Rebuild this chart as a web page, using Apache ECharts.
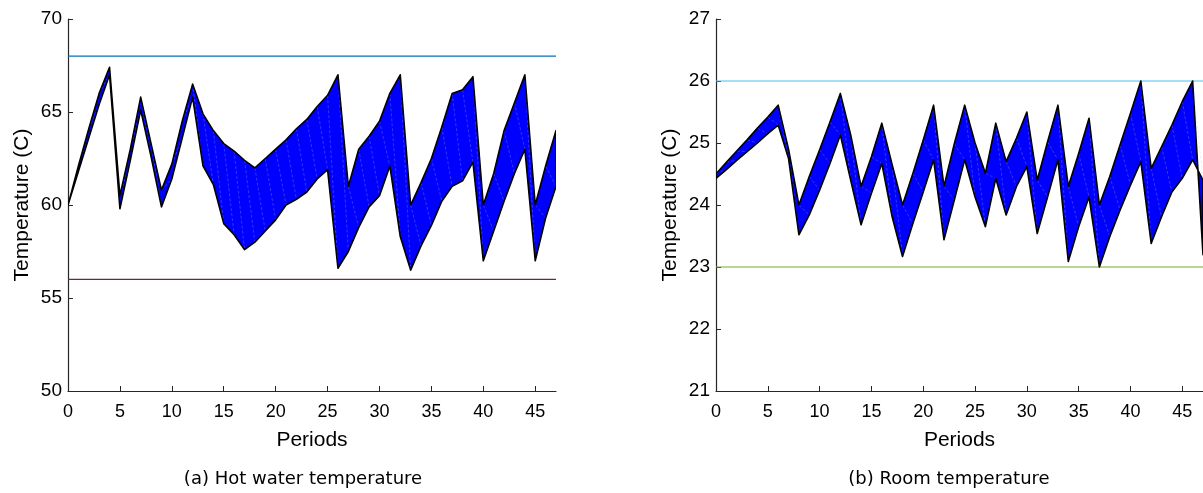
<!DOCTYPE html>
<html>
<head>
<meta charset="utf-8">
<script src="https://cdn.jsdelivr.net/npm/echarts@6/dist/echarts.min.js"></script>
<style>
html,body{margin:0;padding:0;background:#fff;}
#chart{width:1203px;height:493px;}
</style>
</head>
<body>
<div id="chart"></div>
<script>
// ---- data ----
var periods = [0,1,2,3,4,5,6,7,8,9,10,11,12,13,14,15,16,17,18,19,20,21,22,23,24,25,26,27,28,29,30,31,32,33,34,35,36,37,38,39,40,41,42,43,44,45,46,47];

var hotUpper = [60.0,62.1,64.1,66.0,67.4,60.5,63.0,65.8,63.3,60.8,62.2,64.5,66.5,64.9,64.0,63.3,62.9,62.4,62.0,62.5,63.0,63.5,64.1,64.6,65.3,65.9,67.0,61.0,63.0,63.7,64.5,66.0,67.0,60.0,61.2,62.5,64.2,66.0,66.2,66.9,60.0,61.7,64.0,65.5,67.0,60.0,62.1,64.0];
var hotLower = [60.0,61.8,63.6,65.4,67.0,59.8,62.4,65.1,62.6,59.9,61.4,63.6,65.8,62.1,61.1,59.0,58.4,57.6,58.0,58.6,59.2,60.0,60.3,60.7,61.4,61.9,56.6,57.5,58.8,59.9,60.5,62.1,58.3,56.5,57.8,58.9,60.2,61.0,61.3,62.3,57.0,58.6,60.2,61.7,63.0,57.0,59.3,61.0];
var hotLimits = [68, 56];

var roomUpper = [24.50,24.69,24.87,25.05,25.24,25.42,25.61,24.90,24.00,24.46,24.89,25.34,25.80,25.13,24.30,24.78,25.32,24.65,24.00,24.51,25.05,25.61,24.30,24.99,25.61,25.00,24.51,25.32,24.70,25.08,25.50,24.40,25.02,25.61,24.30,24.83,25.40,24.00,24.46,24.97,25.48,26.00,24.59,24.94,25.29,25.67,26.00,23.20];
var roomLower = [24.43,24.57,24.72,24.86,25.00,25.15,25.29,24.75,23.52,23.84,24.24,24.67,25.13,24.40,23.68,24.19,24.67,23.81,23.17,23.70,24.21,24.73,23.44,24.08,24.73,24.13,23.65,24.43,23.84,24.30,24.62,23.54,24.13,24.73,23.09,23.65,24.13,23.00,23.49,23.92,24.32,24.70,23.38,23.81,24.21,24.43,24.73,24.40];
var roomLimits = [26, 23];

var hotTicks = [50,55,60,65,70];
var roomTicks = [21,22,23,24,25,26,27];
var xName = 'Periods';
var yName = 'Temperature (C)';
var captions = ['(a) Hot water temperature', '(b) Room temperature'];

// ---- chart ----
var chart = echarts.init(document.getElementById('chart'), null, {renderer:'canvas'});
var axisColor = '#262626';
var baseFont = 'Liberation Sans, Arial, Helvetica, sans-serif';
var captionFont = 'DejaVu Sans, sans-serif';

function bandSeries(upper, lower, idx){
  return {
    type:'custom',
    xAxisIndex: idx, yAxisIndex: idx,
    data:[0],
    clip:true,
    silent:true,
    z:3,
    renderItem:function(params, api){
      var pts = [];
      for (var i=0;i<periods.length;i++) pts.push(api.coord([periods[i], upper[i]]));
      for (var j=periods.length-1;j>=0;j--) pts.push(api.coord([periods[j], lower[j]]));
      var mesh = [];
      for (var k=0;k<periods.length-1;k++){
        var a = api.coord([periods[k], upper[k]]);
        var b = api.coord([periods[k+1], lower[k+1]]);
        mesh.push({
          type:'line',
          shape:{x1:a[0],y1:a[1],x2:b[0],y2:b[1]},
          style:{stroke:'rgba(190,190,255,0.35)', lineWidth:0.8, lineDash:[3,2]}
        });
      }
      var fillOnly = {type:'polygon', shape:{points:pts}, style:{fill:'#0000ff'}};
      var strokeOnly = {type:'polygon', shape:{points:pts}, style:{fill:null, stroke:'#000', lineWidth:1.6, lineJoin:'round'}};
      return {type:'group', children:[fillOnly].concat(mesh).concat([strokeOnly])};
    }
  };
}

function limitSeries(val, color, idx){
  return {
    type:'line', xAxisIndex:idx, yAxisIndex:idx,
    data:[[periods[0], val],[periods[periods.length-1], val]],
    showSymbol:false, silent:true, z:2,
    lineStyle:{color:color, width:1.2},
    itemStyle:{color:color}
  };
}

function xAxisCfg(idx){
  return {
    type:'value', gridIndex:idx, min:0, max:47, interval:5,
    name:xName, nameLocation:'middle', nameGap:39,
    nameTextStyle:{fontFamily:baseFont, fontSize:21, color:'#000'},
    axisLine:{show:true, onZero:false, lineStyle:{color:axisColor, width:1.2}},
    axisTick:{show:true, inside:true, length:5, lineStyle:{color:axisColor}},
    axisLabel:{show:true, margin:12, fontFamily:baseFont, fontSize:18, color:'#000', showMaxLabel:false,
      formatter:function(v){ return (v % 5 === 0) ? String(v) : ''; }},
    splitLine:{show:false}
  };
}

function yAxisCfg(idx, ticks){
  return {
    type:'value', gridIndex:idx, min:ticks[0], max:ticks[ticks.length-1], interval:ticks[1]-ticks[0],
    name:yName, nameLocation:'middle', nameGap:35,
    nameTextStyle:{fontFamily:baseFont, fontSize:21, color:'#000'},
    axisLine:{show:true, onZero:false, lineStyle:{color:axisColor, width:1.2}},
    axisTick:{show:true, inside:true, length:5, lineStyle:{color:axisColor}},
    axisLabel:{show:true, margin:6, fontFamily:baseFont, fontSize:19, color:'#000'},
    splitLine:{show:false}
  };
}

var option = {
  backgroundColor:'#fff',
  animation:false,
  grid:[
    {left:68, top:19, width:488, height:372, containLabel:false},
    {left:716, top:19, width:487, height:372, containLabel:false}
  ],
  xAxis:[xAxisCfg(0), xAxisCfg(1)],
  yAxis:[yAxisCfg(0, hotTicks), yAxisCfg(1, roomTicks)],
  title:[
    {text:captions[0], left:298, top:465, textAlign:'center',
      textStyle:{fontFamily:captionFont, fontSize:18, fontWeight:'normal', color:'#000'}},
    {text:captions[1], left:944, top:465, textAlign:'center',
      textStyle:{fontFamily:captionFont, fontSize:18, fontWeight:'normal', color:'#000'}}
  ],
  series:[
    limitSeries(hotLimits[0], '#0072BD', 0),
    limitSeries(hotLimits[1], '#7E1F3A', 0),
    bandSeries(hotUpper, hotLower, 0),
    limitSeries(roomLimits[0], '#4DBEEE', 1),
    limitSeries(roomLimits[1], '#77AC30', 1),
    bandSeries(roomUpper, roomLower, 1)
  ]
};
chart.setOption(option);
</script>
</body>
</html>
